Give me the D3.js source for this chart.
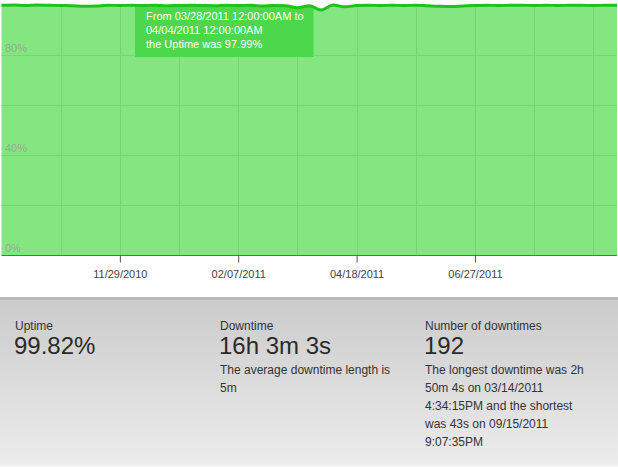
<!DOCTYPE html>
<html>
<head>
<meta charset="utf-8">
<script src="https://cdnjs.cloudflare.com/ajax/libs/d3/7.8.5/d3.min.js"></script>
<style>
  html, body { margin: 0; padding: 0; background: #fff; }
  svg { display: block; font-family: "Liberation Sans", Arial, sans-serif; }
</style>
</head>
<body>
<svg id="chart" width="618" height="467"></svg>
<script>
// ---- data ----
const startDate = "09/20/2010";
const endDate = "09/19/2011";
const uptime = [
  99.9, 100, 99.8, 100, 99.9, 99.8, 99.7, 99.5, 99.6, 99.9,
  99.8, 99.9, 99.8, 99.9, 99.7, 99.8, 99.9, 99.8, 99.7, 99.9,
  99.8, 99.9, 99.6, 99.8, 99.7, 98.9, 99.7, 97.99, 100, 99.3,
  99.8, 99.9, 99.8, 99.9, 99.8, 99.9, 99.7, 99.5, 99.4, 99.6,
  99.8, 99.9, 99.8, 99.9, 99.9, 99.8, 99.9, 99.8, 99.9, 99.9,
  99.8, 99.9, 99.9
];
const yTicks = [0, 20, 40, 60, 80, 100];
const yLabels = [0, 40, 80];
const xTickLabels = ["11/29/2010", "02/07/2011", "04/18/2011", "06/27/2011"];
const gridStart = "10/25/2010";
const tooltipLines = ["From 03/28/2011 12:00:00AM to", "04/04/2011 12:00:00AM", "the Uptime was 97.99%"];
const statTitles = ["Uptime", "Downtime", "Number of downtimes"];
const statValues = ["99.82%", "16h 3m 3s", "192"];
const statNotes = [
  [],
  ["The average downtime length is", "5m"],
  ["The longest downtime was 2h", "50m 4s on 03/14/2011", "4:34:15PM and the shortest", "was 43s on 09/15/2011", "9:07:35PM"]
];

// ---- drawing ----
const parse = d3.timeParse("%m/%d/%Y");
const fmt = d3.timeFormat("%m/%d/%Y");
const t0 = parse(startDate), t1 = parse(endDate);
const data = uptime.map((v, i) => ({ date: d3.timeDay.offset(t0, 7 * i), v }));

const svg = d3.select("#chart");
const x = d3.scaleTime().domain([t0, t1]).range([1.5, 617]);
const y = d3.scaleLinear().domain([0, 100]).range([255, 5]);

const defs = svg.append("defs");
const grad = defs.append("linearGradient").attr("id", "panelGrad").attr("x1", 0).attr("y1", 0).attr("x2", 0).attr("y2", 1);
grad.append("stop").attr("offset", "0%").attr("stop-color", "#cbcbcb");
grad.append("stop").attr("offset", "100%").attr("stop-color", "#ececec");

const area = d3.area().x(d => x(d.date)).y0(y(0)).y1(d => y(d.v)).curve(d3.curveMonotoneX);
const line = d3.line().x(d => x(d.date)).y(d => y(d.v)).curve(d3.curveMonotoneX);

defs.append("clipPath").attr("id", "areaClip").append("path").attr("d", area(data));

svg.append("path").attr("d", area(data)).attr("fill", "#83e680");

// grid
const gStart = parse(gridStart);
const vGrid = [];
for (let d = gStart; d < t1; d = d3.timeDay.offset(d, 35)) vGrid.push(d);
const grid = svg.append("g").attr("clip-path", "url(#areaClip)");
grid.selectAll("line.v").data(vGrid).join("line")
  .attr("x1", d => Math.round(x(d)) + 0.5).attr("x2", d => Math.round(x(d)) + 0.5)
  .attr("y1", 0).attr("y2", 255)
  .attr("stroke", "#74d671").attr("stroke-width", 1);
grid.selectAll("line.h").data(yTicks.filter(t => t > 0 && t < 100)).join("line")
  .attr("x1", 0).attr("x2", 618)
  .attr("y1", d => Math.round(y(d)) + 0.5).attr("y2", d => Math.round(y(d)) + 0.5)
  .attr("stroke", "#74d671").attr("stroke-width", 1);

// tooltip box clipped to area
svg.append("rect").attr("clip-path", "url(#areaClip)")
  .attr("x", 135).attr("y", 0).attr("width", 178.5).attr("height", 57)
  .attr("fill", "#4cd74c");
svg.selectAll("text.tip").data(tooltipLines).join("text")
  .attr("x", 146).attr("y", (d, i) => 20 + i * 14)
  .attr("fill", "#ffffff").attr("font-size", "11px").text(d => d);

// y labels
svg.selectAll("text.yl").data(yLabels).join("text")
  .attr("x", 5).attr("y", d => y(d) - 3)
  .attr("fill", "#9a9a9a").attr("fill-opacity", 0.8).attr("font-size", "11px")
  .text(d => d + "%");

// line
svg.append("path").attr("d", line(data)).attr("fill", "none")
  .attr("stroke", "#1fc11f").attr("stroke-width", 3).attr("stroke-linejoin", "round");

// x axis
const tickDates = xTickLabels.map(parse);
const axis = d3.axisBottom(x).tickValues(tickDates).tickFormat(fmt).tickSize(7).tickPadding(8);
const ax = svg.append("g").attr("transform", "translate(0,255.5)").call(axis);
ax.select(".domain").attr("stroke", "#666").attr("d", "M1.5,0H617");
ax.selectAll(".tick line").attr("stroke", "#555");
ax.selectAll(".tick text").attr("fill", "#444").attr("font-size", "11px")
  .attr("font-family", "Liberation Sans, Arial, sans-serif");

// summary panel
svg.append("rect").attr("x", 0).attr("y", 298).attr("width", 618).attr("height", 168).attr("fill", "url(#panelGrad)");
svg.append("rect").attr("x", 0).attr("y", 297).attr("width", 618).attr("height", 3).attr("fill", "#b9b9b9");
svg.append("rect").attr("x", 0).attr("y", 465).attr("width", 618).attr("height", 2).attr("fill", "#f4f4f4");

const colX = [15, 220, 425];
statTitles.forEach((t, i) => {
  svg.append("text").attr("x", colX[i]).attr("y", 330).attr("fill", "#333")
    .attr("font-size", "12px").text(t);
  svg.append("text").attr("x", colX[i] - 1).attr("y", 354).attr("fill", "#2a2a2a")
    .attr("font-size", "24px").text(statValues[i]);
  statNotes[i].forEach((n, j) => {
    svg.append("text").attr("x", colX[i]).attr("y", 374 + j * 18).attr("fill", "#333")
      .attr("font-size", "12px").text(n);
  });
});
</script>
</body>
</html>
